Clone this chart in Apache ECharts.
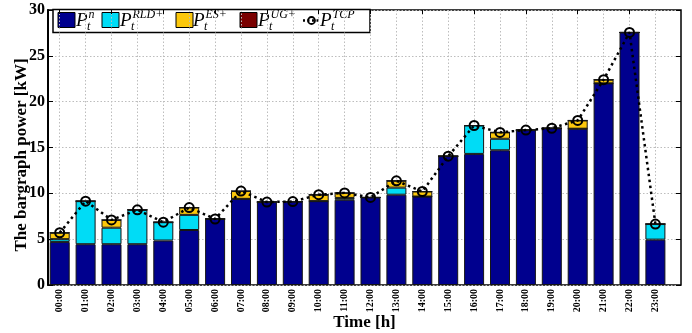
<!DOCTYPE html>
<html>
<head>
<meta charset="utf-8">
<script src="https://cdn.jsdelivr.net/npm/echarts@6/dist/echarts.min.js"></script>
<style>
  html, body { margin: 0; padding: 0; background: #fff; }
  #chart { width: 692px; height: 333px; }
</style>
</head>
<body>
<div id="chart"></div>
<script>
// Hourly power breakdown [kW]
const hours = ['00:00','01:00','02:00','03:00','04:00','05:00','06:00','07:00','08:00','09:00','10:00','11:00',
               '12:00','13:00','14:00','15:00','16:00','17:00','18:00','19:00','20:00','21:00','22:00','23:00'];
const pNet = [4.7, 4.45, 4.45, 4.45, 4.85, 6.0, 7.2, 9.4, 9.05, 9.1, 9.15, 9.3,
              9.55, 9.85, 9.65, 14.05, 14.3, 14.7, 16.9, 17.1, 17.05, 22.0, 27.55, 4.95];
const pRld = [0.3, 4.7, 1.8, 3.75, 2.0, 1.65, 0, 0, 0, 0, 0, 0.2,
              0, 0.77, 0, 0, 3.1, 1.25, 0, 0, 0, 0, 0, 1.7];
const pEs  = [0.7, 0, 0.85, 0, 0, 0.8, 0, 0.85, 0, 0, 0.7, 0.55,
              0, 0.75, 0.55, 0, 0, 0.7, 0, 0, 0.9, 0.4, 0, 0];
const pUg  = [0, 0, 0, 0, 0, 0, 0, 0, 0, 0, 0, 0,
              0, 0, 0, 0, 0, 0, 0, 0, 0, 0, 0, 0];
const pTcp = [5.7, 9.15, 7.1, 8.2, 6.85, 8.45, 7.2, 10.25, 9.05, 9.1, 9.85, 10.05,
              9.55, 11.37, 10.2, 14.05, 17.4, 16.65, 16.9, 17.1, 17.95, 22.4, 27.55, 6.65];
const yMin = 0, yMax = 30, yStep = 5;

const SERIF = '"Liberation Serif", "DejaVu Serif", serif';
const COLORS = { net: '#00008e', rld: '#00dcf6', es: '#fcc80c', ug: '#7a0000' };
const EDGE = '#151515';
const GRIDLINE = { show: true, lineStyle: { color: '#bdbdbd', type: [1.5, 2], width: 1 } };

const chart = echarts.init(document.getElementById('chart'), null, { renderer: 'canvas' });

const barSeries = (name, data, color) => ({
  name, type: 'bar', stack: 'power', data,
  xAxisIndex: 1, yAxisIndex: 2,
  barWidth: 20,
  itemStyle: { color, borderColor: EDGE, borderWidth: 1 },
  z: 3
});

// Legend drawn as text with stacked sub/superscripts
function legendItem(x, sup, swatch) {
  const els = [];
  if (swatch) {
    els.push({ type: 'rect', shape: { x: swatch.x, y: 12.5, width: 17, height: 15 },
      style: { fill: swatch.color, stroke: '#000', lineWidth: 1 } });
  }
  els.push({ type: 'text', x: x, y: 20.5, style: { text: 'P', font: 'italic 19px ' + SERIF, fill: '#000', verticalAlign: 'middle' } });
  els.push({ type: 'text', x: x + 12.5, y: 15, style: { text: sup, font: 'italic 12px ' + SERIF, fill: '#000', verticalAlign: 'middle' } });
  els.push({ type: 'text', x: x + 11, y: 27, style: { text: 't', font: 'italic 12px ' + SERIF, fill: '#000', verticalAlign: 'middle' } });
  return els;
}

const legendEls = [
  { type: 'rect', shape: { x: 53, y: 9.5, width: 317, height: 23 }, style: { fill: '#fff', stroke: '#000', lineWidth: 1.5 } },
  ...legendItem(76, 'n', { x: 58, color: COLORS.net }),
  ...legendItem(120, 'RLD+', { x: 102, color: COLORS.rld }),
  ...legendItem(193, 'ES+', { x: 176, color: COLORS.es }),
  ...legendItem(258, 'UG+', { x: 240, color: COLORS.ug }),
  { type: 'line', shape: { x1: 303, y1: 20.5, x2: 320, y2: 20.5 }, style: { stroke: '#000', lineWidth: 2.5, lineDash: [2, 2.5] } },
  { type: 'circle', shape: { cx: 311.5, cy: 20.5, r: 3.5 }, style: { fill: 'rgba(0,0,0,0)', stroke: '#000', lineWidth: 1.8 } },
  ...legendItem(320, 'TCP', null)
];

const option = {
  animation: false,
  backgroundColor: '#fff',
  grid: [
    { left: 48, right: 11, top: 10, bottom: 48, containLabel: false, outerBoundsMode: 'none',
      show: true, borderColor: '#000', borderWidth: 1.5, backgroundColor: 'transparent' },
    { left: 46.75, width: 621.6, top: 10, bottom: 48, containLabel: false, outerBoundsMode: 'none' }
  ],
  xAxis: [
    { gridIndex: 0, type: 'value', min: 0, max: 1,
      axisLine: { show: false }, axisTick: { show: false }, axisLabel: { show: false }, splitLine: { show: false },
      name: 'Time [h]', nameLocation: 'middle', nameGap: 29,
      nameTextStyle: { fontFamily: SERIF, fontWeight: 'bold', fontSize: 17, color: '#000' } },
    { gridIndex: 1, type: 'category', data: hours, boundaryGap: true,
      axisLine: { show: false },
      axisTick: { show: true, inside: true, alignWithLabel: true, length: 4, lineStyle: { color: '#000' } },
      axisLabel: { rotate: 90, fontFamily: SERIF, fontWeight: 'bold', fontSize: 10, color: '#000', margin: 4 },
      splitLine: Object.assign({ alignWithLabel: true }, GRIDLINE) },
    { gridIndex: 1, type: 'category', data: hours, position: 'top', boundaryGap: true,
      axisLine: { show: false },
      axisTick: { show: true, inside: true, alignWithLabel: true, length: 4, lineStyle: { color: '#000' } },
      axisLabel: { show: false }, splitLine: { show: false } }
  ],
  yAxis: [
    { gridIndex: 0, type: 'value', min: yMin, max: yMax, interval: yStep,
      axisLine: { show: true, lineStyle: { color: '#000', width: 2 } },
      axisTick: { show: true, inside: true, length: 5, lineStyle: { color: '#000' } },
      axisLabel: { fontFamily: SERIF, fontWeight: 'bold', fontSize: 16, color: '#000', margin: 3 },
      splitLine: GRIDLINE },
    { gridIndex: 0, type: 'value', min: yMin, max: yMax, interval: yStep, position: 'right',
      axisLine: { show: false },
      axisTick: { show: true, inside: true, length: 5, lineStyle: { color: '#000' } },
      axisLabel: { show: false }, splitLine: { show: false } },
    { gridIndex: 1, type: 'value', min: yMin, max: yMax, interval: yStep, show: false }
  ],
  series: [
    barSeries('P_t^n', pNet, COLORS.net),
    barSeries('P_t^RLD+', pRld, COLORS.rld),
    barSeries('P_t^ES+', pEs, COLORS.es),
    barSeries('P_t^UG+', pUg, COLORS.ug),
    { name: 'P_t^TCP', type: 'line', data: pTcp, xAxisIndex: 1, yAxisIndex: 2,
      symbol: 'circle', symbolSize: 9,
      itemStyle: { color: 'rgba(0,0,0,0)', borderColor: '#000', borderWidth: 2 },
      lineStyle: { color: '#000', width: 2.5, type: [2.5, 3.5] },
      z: 5 }
  ],
  graphic: [
    { type: 'text', x: 22, y: 155, rotation: Math.PI / 2,
      style: { text: 'The bargraph power [kW]', font: 'bold 17px ' + SERIF, fill: '#000', align: 'center', verticalAlign: 'middle' } },
    { type: 'group', z: 100, children: legendEls }
  ]
};

chart.setOption(option);
</script>
</body>
</html>
